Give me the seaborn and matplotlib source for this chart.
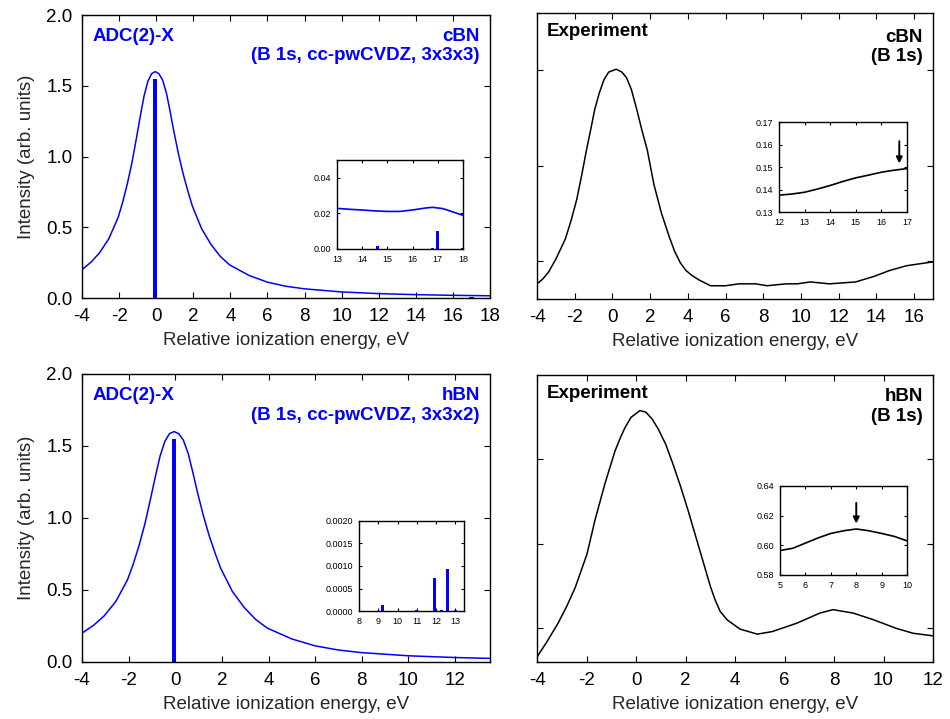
import matplotlib
matplotlib.use('Agg')
import matplotlib.pyplot as plt
import seaborn as sns

BLUE = '#0000ff'

# ADC(2)-X theory, cBN
cbn_theory_x = [-4, -3.5, -3.05, -2.55, -2.05, -1.8, -1.55, -1.3, -1.05, -0.85, -0.65, -0.45,
                -0.25, -0.05, 0.15, 0.35, 0.55, 0.75, 0.95, 1.2, 1.45, 1.7, 1.95, 2.45, 2.95,
                3.45, 3.95, 5, 6, 7, 8, 10, 12, 14, 16, 18]
cbn_theory_y = [0.20, 0.255, 0.32, 0.42, 0.57, 0.68, 0.81, 0.96, 1.14, 1.29, 1.43, 1.53,
                1.585, 1.60, 1.585, 1.54, 1.45, 1.32, 1.18, 1.02, 0.88, 0.76, 0.65, 0.49, 0.38,
                0.295, 0.235, 0.16, 0.112, 0.083, 0.065, 0.043, 0.031, 0.024, 0.019, 0.016]
cbn_stick_x = [-0.07, 14.6, 16.0, 16.5, 16.8, 17.0, 18.0]
cbn_stick_y = [1.55, 0.0015, 0.0002, 0.0002, 0.0003, 0.0102, 0.0003]
cbn_inset_x = [13, 13.5, 14, 14.5, 15, 15.5, 16, 16.5, 16.8, 17.2, 17.5, 18]
cbn_inset_y = [0.0228, 0.0223, 0.0219, 0.0214, 0.0211, 0.0211, 0.0219, 0.0230,
               0.0234, 0.0227, 0.0213, 0.0189]

# ADC(2)-X theory, hBN
hbn_theory_x = [-4, -3.5, -3.05, -2.55, -2.05, -1.8, -1.55, -1.3, -1.05, -0.85, -0.65, -0.45,
                -0.25, -0.05, 0.15, 0.35, 0.55, 0.75, 0.95, 1.2, 1.45, 1.7, 1.95, 2.45, 2.95,
                3.45, 3.95, 5, 6, 7, 8, 10, 12, 13.5]
hbn_theory_y = [0.20, 0.255, 0.32, 0.42, 0.57, 0.68, 0.81, 0.96, 1.14, 1.29, 1.43, 1.53,
                1.585, 1.60, 1.585, 1.54, 1.45, 1.32, 1.18, 1.02, 0.88, 0.76, 0.65, 0.49, 0.38,
                0.295, 0.235, 0.16, 0.112, 0.083, 0.065, 0.043, 0.031, 0.025]
hbn_stick_x = [-0.05, 9.2, 11.0, 11.9, 12.3, 12.6, 13.0]
hbn_stick_y = [1.55, 0.00013, 0.00002, 0.00073, 0.00002, 0.00093, 0.00002]

# Experiment, cBN
exp_cbn_x = [-4, -3.7, -3.4, -3.0, -2.5, -2.2, -1.9, -1.65, -1.4, -1.15, -0.95, -0.7,
             -0.45, -0.2, 0.2, 0.5, 0.75, 1.0, 1.3, 1.55, 1.85, 2.2, 2.6, 3.0, 3.3,
             3.6, 3.9, 4.2, 4.6, 5.2, 6.0, 6.7, 7.6, 8.2, 9.2, 9.8, 10.5, 11.5,
             12.2, 12.9, 13.9, 14.7, 15.6, 16.5, 17]
exp_cbn_y = [0.138, 0.1405, 0.144, 0.151, 0.1615, 0.171, 0.182, 0.194, 0.207, 0.219,
             0.229, 0.238, 0.245, 0.249, 0.2505, 0.249, 0.246, 0.240, 0.229, 0.219,
             0.208, 0.190, 0.175, 0.163, 0.155, 0.149, 0.145, 0.1425, 0.140, 0.137,
             0.137, 0.138, 0.138, 0.137, 0.138, 0.138, 0.139, 0.138, 0.1385, 0.139,
             0.142, 0.145, 0.1475, 0.1488, 0.1495]
exp_cbn_inset_x = [12, 12.5, 13, 13.5, 14, 14.5, 15, 15.5, 16, 16.5, 17]
exp_cbn_inset_y = [0.1375, 0.1380, 0.1388, 0.1402, 0.1418, 0.1436, 0.1452, 0.1464,
                   0.1477, 0.1486, 0.1493]

# Experiment, hBN
exp_hbn_x = [-4, -3.6, -3.15, -2.8, -2.46, -1.98, -1.66, -1.25, -0.85, -0.6, -0.44,
             -0.2, 0.16, 0.4, 0.65, 0.9, 1.2, 1.5, 1.8, 2.1, 2.4, 2.7, 3.0, 3.19,
             3.4, 3.68, 4.2, 4.9, 5.5, 6.5, 7.43, 7.96, 8.77, 9.6, 10.5, 11.2, 12]
exp_hbn_y = [0.583, 0.592, 0.603, 0.613, 0.624, 0.644, 0.664, 0.686, 0.705, 0.714,
             0.719, 0.725, 0.729, 0.728, 0.724, 0.718, 0.709, 0.697, 0.684, 0.670,
             0.655, 0.640, 0.625, 0.617, 0.610, 0.605, 0.5995, 0.5965, 0.598, 0.603,
             0.609, 0.611, 0.609, 0.605, 0.600, 0.597, 0.5955]
exp_hbn_inset_x = [5, 5.5, 6, 6.5, 7, 7.5, 8, 8.5, 9, 9.5, 10]
exp_hbn_inset_y = [0.5965, 0.598, 0.6015, 0.605, 0.608, 0.6098, 0.611, 0.6098,
                   0.608, 0.606, 0.603]

XLABEL = 'Relative ionization energy, eV'
YLABEL = 'Intensity (arb. units)'

sns.set_theme(style='ticks')
plt.rcParams['font.family'] = ['Liberation Sans', 'DejaVu Sans']
plt.rcParams['axes.unicode_minus'] = False
plt.rcParams['axes.edgecolor'] = 'black'
plt.rcParams['axes.linewidth'] = 1.0


def style_axes(ax, size=13.5, length=4.5, pad=7):
    ax.tick_params(direction='in', top=True, right=True, length=length,
                   width=0.8, labelsize=size, colors='black', pad=pad)
    for s in ax.spines.values():
        s.set_visible(True)
        s.set_color('black')


fig = plt.figure(figsize=(9.5, 7.19), dpi=100)
ax_tl = fig.add_axes([0.0863, 0.5855, 0.4295, 0.3936])
ax_tr = fig.add_axes([0.5653, 0.584, 0.4168, 0.398])
ax_bl = fig.add_axes([0.0863, 0.0793, 0.4295, 0.4006])
ax_br = fig.add_axes([0.5653, 0.0793, 0.4168, 0.399])

# theory panels
for ax, tx, ty, sx, sy, xmax, cell, bw in [
        (ax_tl, cbn_theory_x, cbn_theory_y, cbn_stick_x, cbn_stick_y, 18, 'cBN\n(B 1s, cc-pwCVDZ, 3x3x3)', 0.22),
        (ax_bl, hbn_theory_x, hbn_theory_y, hbn_stick_x, hbn_stick_y, 13.5, 'hBN\n(B 1s, cc-pwCVDZ, 3x3x2)', 0.17)]:
    sns.lineplot(x=tx, y=ty, ax=ax, color=BLUE, lw=1.1)
    ax.bar(sx, sy, width=bw, color=BLUE, linewidth=0)
    ax.set_xlim(-4, xmax)
    ax.set_ylim(0, 2.0)
    ax.set_xticks(list(range(-4, int(xmax) + 1, 2)))
    ax.set_yticks([0.0, 0.5, 1.0, 1.5, 2.0])
    ax.set_yticklabels(['0.0', '0.5', '1.0', '1.5', '2.0'])
    ax.set_xlabel(XLABEL, fontsize=13.5, labelpad=5)
    ax.set_ylabel(YLABEL, fontsize=13.5, labelpad=8)
    style_axes(ax)
    ax.text(0.025, 0.955, 'ADC(2)-X', transform=ax.transAxes, ha='left', va='top',
            color=BLUE, fontsize=13.5, fontweight='bold')
    ax.text(0.975, 0.955, cell, transform=ax.transAxes, ha='right', va='top',
            color=BLUE, fontsize=13.5, fontweight='bold', multialignment='right',
            linespacing=1.2)

# experiment panels
for ax, ex, ey, xmax, ylim, yt, name, ny in [
        (ax_tr, exp_cbn_x, exp_cbn_y, 17, (0.13, 0.28), [0.15, 0.20, 0.25], 'cBN\n(B 1s)', 0.945),
        (ax_br, exp_hbn_x, exp_hbn_y, 12, (0.58, 0.75), [0.60, 0.65, 0.70], 'hBN\n(B 1s)', 0.955)]:
    sns.lineplot(x=ex, y=ey, ax=ax, color='black', lw=1.1)
    ax.set_xlim(-4, xmax)
    ax.set_ylim(*ylim)
    ax.set_xticks(list(range(-4, xmax + 1 if xmax % 2 == 0 else xmax, 2)))
    ax.set_yticks(yt)
    ax.set_yticklabels([])
    ax.set_xlabel(XLABEL, fontsize=13.5, labelpad=5)
    style_axes(ax)
    ax.text(0.025, 0.965, 'Experiment', transform=ax.transAxes, ha='left', va='top',
            color='black', fontsize=13.5, fontweight='bold')
    ax.text(0.975, ny, name, transform=ax.transAxes, ha='right', va='top',
            color='black', fontsize=13.5, fontweight='bold', multialignment='right',
            linespacing=1.2)

# insets
in_tl = fig.add_axes([0.3547, 0.6537, 0.1326, 0.1238])
sns.lineplot(x=cbn_inset_x, y=cbn_inset_y, ax=in_tl, color=BLUE, lw=1.2)
in_tl.bar(cbn_stick_x, cbn_stick_y, width=0.12, color=BLUE, linewidth=0)
in_tl.set_xlim(13, 18)
in_tl.set_ylim(0, 0.05)
in_tl.set_xticks([13, 14, 15, 16, 17, 18])
in_tl.set_yticks([0.0, 0.02, 0.04])
in_tl.set_yticklabels(['0.00', '0.02', '0.04'])

in_bl = fig.add_axes([0.3779, 0.1502, 0.1105, 0.1252])
in_bl.bar(hbn_stick_x, hbn_stick_y, width=0.15, color=BLUE, linewidth=0)
in_bl.set_xlim(8, 13.45)
in_bl.set_ylim(0, 0.002)
in_bl.set_xticks([8, 9, 10, 11, 12, 13])
in_bl.set_yticks([0, 0.0005, 0.001, 0.0015, 0.002])
in_bl.set_yticklabels(['0.0000', '0.0005', '0.0010', '0.0015', '0.0020'])

in_tr = fig.add_axes([0.82, 0.7051, 0.1347, 0.1252])
sns.lineplot(x=exp_cbn_inset_x, y=exp_cbn_inset_y, ax=in_tr, color='black', lw=1.2)
in_tr.set_xlim(12, 17)
in_tr.set_ylim(0.13, 0.17)
in_tr.set_xticks([12, 13, 14, 15, 16, 17])
in_tr.set_yticks([0.13, 0.14, 0.15, 0.16, 0.17])
in_tr.set_yticklabels(['0.13', '0.14', '0.15', '0.16', '0.17'])
in_tr.annotate('', xy=(16.7, 0.1516), xytext=(16.7, 0.1615),
               arrowprops=dict(arrowstyle='-|>', color='black', lw=1.4,
                               mutation_scale=9, shrinkA=0, shrinkB=0))

in_br = fig.add_axes([0.8211, 0.2003, 0.1337, 0.1238])
sns.lineplot(x=exp_hbn_inset_x, y=exp_hbn_inset_y, ax=in_br, color='black', lw=1.2)
in_br.set_xlim(5, 10)
in_br.set_ylim(0.58, 0.64)
in_br.set_xticks([5, 6, 7, 8, 9, 10])
in_br.set_yticks([0.58, 0.60, 0.62, 0.64])
in_br.set_yticklabels(['0.58', '0.60', '0.62', '0.64'])
in_br.annotate('', xy=(8, 0.6147), xytext=(8, 0.6286),
               arrowprops=dict(arrowstyle='-|>', color='black', lw=1.4,
                               mutation_scale=9, shrinkA=0, shrinkB=0))

for ax in [in_tl, in_bl, in_tr, in_br]:
    style_axes(ax, size=6.5, length=2.5, pad=4)

fig.savefig('out.png', dpi=100)
